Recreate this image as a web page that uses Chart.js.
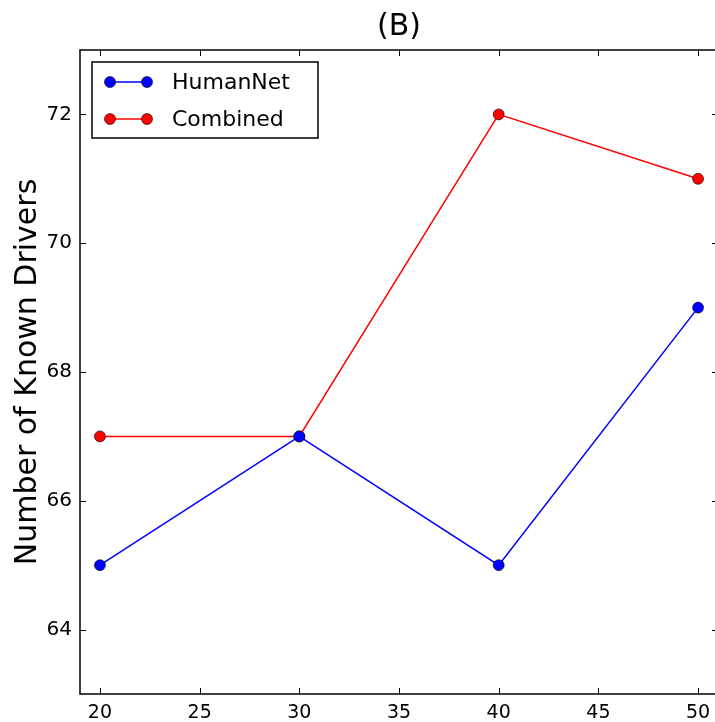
<!DOCTYPE html>
<html>
<head>
<meta charset="utf-8">
<script src="https://cdn.jsdelivr.net/npm/chart.js@4"></script>
<style>
  html, body { margin: 0; padding: 0; background: #fff; overflow: hidden; }
  #wrap { width: 740px; height: 722px; }
</style>
</head>
<body>
<div id="wrap"><canvas id="chart" width="740" height="722"></canvas></div>
<script>
// datos (B)
const xValues = [20, 30, 40, 50];
const humanNet = [65, 67, 65, 69];
const combined = [67, 67, 72, 71];
const xTicks = [20, 25, 30, 35, 40, 45, 50];
const yTicks = [64, 66, 68, 70, 72];

const FONT = 'DejaVu Sans';

// título centrado sobre el área del gráfico
const plotTitle = {
  id: 'plotTitle',
  afterDraw(chart) {
    const { ctx, chartArea: a } = chart;
    ctx.save();
    ctx.fillStyle = '#000';
    ctx.font = '30px "' + FONT + '"';
    ctx.textAlign = 'center';
    ctx.textBaseline = 'middle';
    ctx.fillText('(B)', (a.left + a.right) / 2, 27);
    ctx.restore();
  }
};

// marco y marcas hacia dentro, estilo matplotlib
const frameTicks = {
  id: 'frameTicks',
  afterDatasetsDraw(chart) {
    const { ctx, chartArea: a, scales } = chart;
    ctx.save();
    ctx.strokeStyle = '#000';
    ctx.lineWidth = 1;
    const len = 6;
    ctx.beginPath();
    xTicks.forEach(v => {
      const px = Math.round(scales.x.getPixelForValue(v)) + 0.5;
      ctx.moveTo(px, a.bottom); ctx.lineTo(px, a.bottom - len);
      ctx.moveTo(px, a.top); ctx.lineTo(px, a.top + len);
    });
    yTicks.forEach(v => {
      const py = Math.round(scales.y.getPixelForValue(v)) + 0.5;
      ctx.moveTo(a.left, py); ctx.lineTo(a.left + len, py);
      ctx.moveTo(a.right, py); ctx.lineTo(a.right - len, py);
    });
    ctx.stroke();
    ctx.lineWidth = 1.5;
    ctx.strokeRect(a.left, a.top, a.right - a.left, a.bottom - a.top);
    ctx.restore();
  }
};

// leyenda dentro del área, arriba a la izquierda
const innerLegend = {
  id: 'innerLegend',
  afterDraw(chart) {
    const { ctx } = chart;
    ctx.save();
    ctx.fillStyle = '#fff';
    ctx.fillRect(92, 62, 226, 76);
    ctx.strokeStyle = '#000';
    ctx.lineWidth = 1.5;
    ctx.strokeRect(92, 62, 226, 76);
    const rows = [
      { label: 'HumanNet', color: '#0000ff', y: 82 },
      { label: 'Combined', color: '#ff0000', y: 119 }
    ];
    ctx.font = '22px "' + FONT + '"';
    ctx.textBaseline = 'middle';
    rows.forEach(r => {
      ctx.strokeStyle = r.color;
      ctx.lineWidth = 1.5;
      ctx.beginPath();
      ctx.moveTo(110, r.y); ctx.lineTo(147, r.y);
      ctx.stroke();
      [110, 147].forEach(px => {
        ctx.beginPath();
        ctx.arc(px, r.y, 5.5, 0, Math.PI * 2);
        ctx.fillStyle = r.color;
        ctx.fill();
        ctx.strokeStyle = '#000';
        ctx.lineWidth = 0.6;
        ctx.stroke();
      });
      ctx.fillStyle = '#000';
      ctx.fillText(r.label, 172, r.y + 1);
    });
    ctx.restore();
  }
};

const mkSet = (label, data, color) => ({
  label,
  data: xValues.map((x, i) => ({ x, y: data[i] })),
  borderColor: color,
  backgroundColor: color,
  borderWidth: 1.5,
  pointRadius: 5.5,
  pointBorderColor: '#000',
  pointBorderWidth: 0.6,
  pointBackgroundColor: color,
  tension: 0
});

new Chart(document.getElementById('chart'), {
  type: 'line',
  data: {
    datasets: [
      mkSet('HumanNet', humanNet, '#0000ff'),
      mkSet('Combined', combined, '#ff0000')
    ]
  },
  options: {
    responsive: false,
    animation: false,
    layout: { padding: { left: 0, right: 22, top: 50, bottom: 0 } },
    plugins: {
      legend: { display: false },
      tooltip: { enabled: false },
      title: { display: false }
    },
    scales: {
      x: {
        type: 'linear',
        min: 19, max: 51,
        afterBuildTicks: s => { s.ticks = xTicks.map(v => ({ value: v })); },
        afterFit: s => { s.height = 28; },
        grid: { display: false, drawTicks: false, tickLength: 0 },
        border: { display: false },
        ticks: { color: '#000', padding: 8, maxRotation: 0, font: { family: FONT, size: 19 } }
      },
      y: {
        min: 63, max: 73,
        afterBuildTicks: s => { s.ticks = yTicks.map(v => ({ value: v })); },
        afterFit: s => { s.width = 80; },
        grid: { display: false, drawTicks: false, tickLength: 0 },
        border: { display: false },
        ticks: { color: '#000', padding: 8, font: { family: FONT, size: 20 } },
        title: {
          display: true,
          text: 'Number of Known Drivers',
          color: '#000',
          font: { family: FONT, size: 30, weight: 'normal' },
          padding: { top: 10, bottom: 0 }
        }
      }
    }
  },
  plugins: [frameTicks, innerLegend, plotTitle]
});
</script>
</body>
</html>
